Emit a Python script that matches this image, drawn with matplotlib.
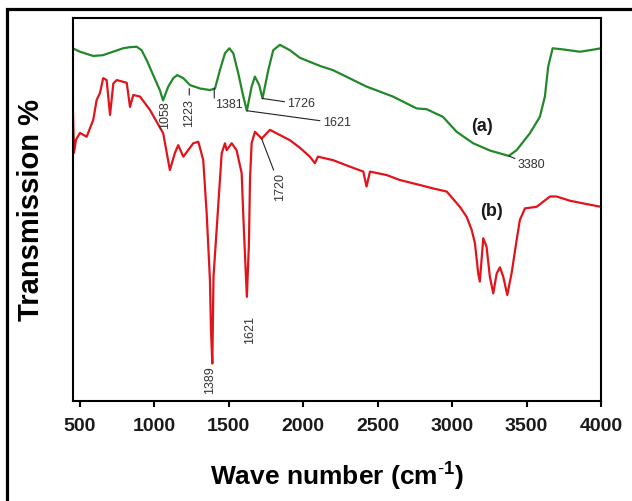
import matplotlib
matplotlib.use("Agg")
from matplotlib import pyplot as plt
from matplotlib.patches import Rectangle

plt.rcParams['font.family'] = ['Liberation Sans', 'DejaVu Sans']
plt.rcParams['mathtext.fontset'] = 'custom'
plt.rcParams['mathtext.rm'] = 'Liberation Sans'
plt.rcParams['mathtext.bf'] = 'Liberation Sans:bold'

# Spectrum (a) - green
wn_a = [451, 500, 589, 654, 722, 789, 836, 881, 914, 948, 992, 1037, 1058, 1093,
        1127, 1153, 1194, 1239, 1306, 1373, 1407, 1440, 1474, 1503, 1530, 1563,
        1597, 1621, 1653, 1675, 1704, 1726, 1765, 1798, 1843, 1910, 1978, 2112,
        2199, 2425, 2602, 2761, 2828, 2938, 3030, 3141, 3254, 3380, 3433, 3522,
        3589, 3623, 3645, 3675, 3746, 3858, 3925, 4000]
tr_a = [92.1, 91.2, 90.1, 90.3, 91.2, 92.1, 92.4, 92.5, 91.6, 89.0, 85.1, 81.1, 78.5, 82.1,
        84.3, 85.1, 84.3, 82.5, 81.6, 81.2, 81.6, 86.4, 90.8, 92.1, 90.8, 85.6,
        79.5, 75.8, 82.1, 84.7, 82.5, 79.0, 86.4, 91.6, 93.0, 91.6, 89.6, 87.5,
        86.4, 82.1, 79.5, 76.4, 76.2, 74.2, 70.3, 67.3, 65.4, 64.0, 65.5, 69.9,
        74.2, 79.5, 87.3, 92.1, 91.8, 91.2, 91.6, 92.1]

# Spectrum (b) - red
wn_b = [451, 460, 473, 500, 545, 589, 612, 634, 656, 679, 702, 724, 747, 814, 836,
        858, 903, 970, 1059, 1104, 1138, 1160, 1194, 1261, 1295, 1328, 1351, 1362,
        1373, 1380, 1389, 1397, 1418, 1440, 1452, 1474, 1485, 1519, 1552, 1586,
        1601, 1621, 1635, 1642, 1653, 1675, 1709, 1720, 1754, 1776, 1910, 1978,
        2044, 2078, 2098, 2199, 2313, 2403, 2425, 2448, 2560, 2649, 2783, 2873,
        2963, 3052, 3097, 3131, 3153, 3175, 3186, 3209, 3231, 3253, 3276, 3299,
        3321, 3343, 3370, 3399, 3433, 3455, 3489, 3567, 3657, 3702, 3790, 3880, 4000]
tr_b = [78.1, 64.8, 68.2, 70.0, 69.0, 73.4, 78.6, 80.4, 84.3, 83.8, 74.7, 82.9, 83.8, 83.1, 76.8,
        79.9, 79.5, 76.0, 69.9, 60.3, 64.8, 66.8, 63.8, 67.3, 67.7, 62.9, 49.0, 40.3,
        31.6, 18.5, 9.8, 32.5, 44.7, 57.7, 64.7, 67.3, 65.5, 67.3, 65.5, 59.5,
        44.7, 27.2, 41.2, 57.7, 67.3, 70.3, 69.0, 68.5, 69.9, 70.8, 68.1, 66.1,
        63.8, 62.1, 63.8, 62.9, 61.2, 59.9, 56.0, 59.9, 59.0, 57.7, 56.4, 55.5,
        54.7, 50.7, 48.1, 44.7, 41.2, 33.3, 31.2, 42.5, 40.3, 32.5, 28.1, 33.3,
        34.9, 32.5, 27.7, 33.3, 42.0, 47.3, 50.3, 50.7, 53.4, 53.4, 52.3, 51.6, 50.7]

x_ticks = [500, 1000, 1500, 2000, 2500, 3000, 3500, 4000]

fig = plt.figure(figsize=(6.32, 5.01), dpi=100)
ax = fig.add_axes([0.115, 0.1996, 0.836, 0.7644])

ax.plot(wn_a, tr_a, color='#23882a', lw=1.6)
ax.plot(wn_b, tr_b, color='#e0141a', lw=1.6)

ax.set_xlim(451, 4000)
ax.set_ylim(0, 100)
ax.set_xticks(x_ticks)
ax.set_yticks([])
ax.tick_params(axis='x', direction='out', length=4.5, width=1.5, pad=8,
               labelsize=14, labelcolor='#1a1a1a')
for lab in ax.get_xticklabels():
    lab.set_fontweight('bold')
for sp in ax.spines.values():
    sp.set_linewidth(1.5)

ax.set_xlabel(r"Wave number (cm$^{\mathbf{\text{-}1}}$)", fontsize=19, fontweight='bold', labelpad=17)
ax.set_ylabel("Transmission %", fontsize=21, fontweight='bold', labelpad=20)

# Peak labels
ann = dict(fontsize=9, color='#333333')
line = dict(arrowstyle='-', color='#222222', lw=0.8, shrinkA=0, shrinkB=0)

ax.text(1071, 74.7, "1058", rotation=90, ha='center', va='center', **ann)
ax.text(1234, 75.2, "1223", rotation=90, ha='center', va='center', **ann)
ax.annotate("", xy=(1234, 81.6), xytext=(1234, 79.9), arrowprops=line)
ax.text(1405, 77.3, "1381", ha='left', va='center', **ann)
ax.annotate("", xy=(1402, 81.7), xytext=(1402, 79.1), arrowprops=line)
ax.annotate("1621", xy=(1621, 75.8), xytext=(2130, 72.6), ha='left', va='center',
            arrowprops=line, **ann)
ax.annotate("1726", xy=(1726, 79.0), xytext=(1893, 77.5), ha='left', va='center',
            arrowprops=line, **ann)
ax.annotate("3380", xy=(3380, 64.0), xytext=(3440, 61.5), ha='left', va='center',
            arrowprops=line, **ann)
ax.annotate("1720", xy=(1720, 68.5), xytext=(1844, 55.9), rotation=90, ha='center', va='center',
            arrowprops=line, **ann)
ax.text(1642, 18.5, "1621", rotation=90, ha='center', va='center', **ann)
ax.text(1373, 5.5, "1389", rotation=90, ha='center', va='center', **ann)

ax.text(3202, 71.6, "(a)", fontsize=13, fontweight='bold', ha='center', va='center', color='#1a1a1a')
ax.text(3262, 49.4, "(b)", fontsize=13, fontweight='bold', ha='center', va='center', color='#1a1a1a')

# outer frame
fig.patches.append(Rectangle((7 / 632, -0.2), 1.2, 1.2 - 8.5 / 501, transform=fig.transFigure,
                             fill=False, edgecolor='black', lw=2.3))

fig.savefig("out.png", dpi=100)
